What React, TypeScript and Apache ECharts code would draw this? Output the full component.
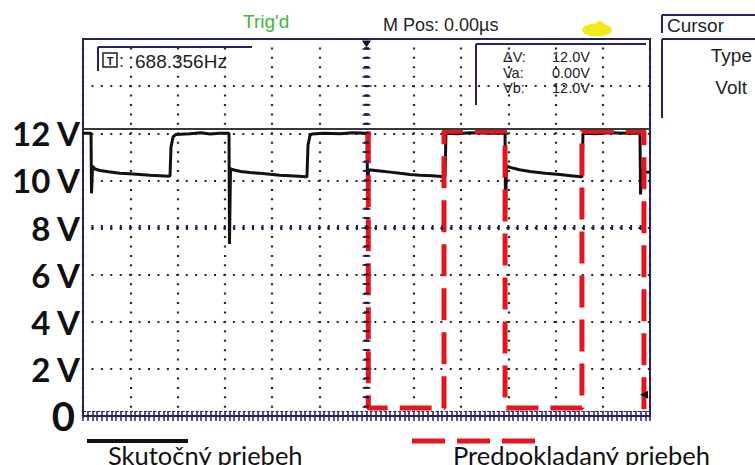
import React, { useEffect, useRef } from "react";
import * as echarts from "echarts";

// Time axis in microseconds (500 µs/div, 12 divisions), voltage in volts
const actualTime = [-3000, -2936, -2915, -2910, -2899, -2873, -2820, -2714, -2608, -2503, -2397, -2291, -2185, -2090, -2079, -2069, -2047, -2016, -1868, -1750, -1656, -1560, -1466, -1455, -1450, -1439, -1413, -1330, -1233, -1130, -1021, -920, -810, -720, -640, -630, -619, -598, -577, -450, -280, -150, -5, 5, 11, 21, 143, 250, 354, 460, 566, 700, 820, 831, 841, 960, 1095, 1300, 1455, 1466, 1471, 1481, 1519, 1620, 1730, 1890, 2048, 2160, 2270, 2280, 2291, 2430, 2577, 2750, 2884, 2894, 2900, 2910, 2968, 3000];
const actualVolt = [12.0, 12.0, 12.0, 9.45, 10.6, 10.48, 10.42, 10.36, 10.3, 10.28, 10.25, 10.22, 10.2, 10.17, 10.2, 11.4, 11.85, 11.95, 11.98, 12.02, 11.97, 12.0, 12.0, 12.0, 7.3, 10.5, 10.45, 10.38, 10.33, 10.3, 10.26, 10.22, 10.2, 10.18, 10.15, 10.15, 11.5, 11.9, 11.97, 12.0, 11.98, 12.02, 12.0, 12.0, 9.5, 10.45, 10.4, 10.35, 10.3, 10.25, 10.22, 10.2, 10.15, 10.15, 12.0, 11.98, 12.02, 12.0, 12.0, 12.0, 8.5, 10.62, 10.55, 10.45, 10.38, 10.3, 10.25, 10.2, 10.15, 10.15, 12.0, 11.98, 12.02, 12.0, 12.0, 12.0, 9.4, 10.4, 10.35, 10.35];

const expectedTime = [19, 19, 820, 820, 1466, 1466, 2280, 2280, 2936, 2936];
const expectedVolt = [12.08, 0.34, 0.34, 12.08, 12.08, 0.34, 0.34, 12.08, 12.08, 0];

const yLabelMax = 12;
const cursorB = 12.2;
const triggerLevel = 0.9;

const seriesActual = "Skutočný priebeh";
const seriesExpected = "Predpokladaný priebeh";

const NAVY = "#22226a";
const UI_TEXT = "#1e1e26";
const DOTS = { color: "#26262e", width: 2.2, type: [2, 7.43] as number[], dashOffset: 1 };

export default function App() {
  const ref = useRef<HTMLDivElement>(null);
  useEffect(() => {
    if (!ref.current) return;
    const chart = echarts.init(ref.current, null, { renderer: "svg" });
    const ui = (x: number, y: number, text: string, size = 18, align = "left", fill = UI_TEXT) => ({
      type: "text",
      x,
      y,
      style: { text, fill, font: `${size}px "Liberation Sans"`, textAlign: align, textVerticalAlign: "middle" },
    });
    const ln = (x1: number, y1: number, x2: number, y2: number, w = 2) => ({
      type: "line",
      shape: { x1, y1, x2, y2 },
      style: { stroke: NAVY, lineWidth: w },
    });
    chart.setOption({
      animation: false,
      backgroundColor: "#ffffff",
      grid: { left: 83, top: 39, width: 567, height: 377, show: true, borderColor: NAVY, borderWidth: 2, backgroundColor: "#ffffff" },
      xAxis: [
        {
          type: "value", min: -3000, max: 3000, interval: 500, position: "bottom",
          axisLine: { show: false },
          axisTick: { show: true, inside: true, length: 5, lineStyle: { color: NAVY, width: 1.5 } },
          minorTick: { show: true, splitNumber: 10, length: 5, lineStyle: { color: NAVY, width: 1.5 } },
          axisLabel: { show: false },
          splitLine: { show: true, lineStyle: DOTS },
        },
        {
          type: "value", min: -3000, max: 3000, interval: 500, position: "top",
          axisLine: { show: false },
          axisTick: { show: true, inside: true, length: 5, lineStyle: { color: NAVY, width: 1.5 } },
          minorTick: { show: true, splitNumber: 10, length: 5, lineStyle: { color: NAVY, width: 1.5 } },
          axisLabel: { show: false },
          splitLine: { show: false },
        },
      ],
      yAxis: [
        {
          type: "value", min: 0, max: 16, interval: 2, position: "left",
          axisLine: { show: false },
          axisTick: { show: true, inside: true, length: 5, lineStyle: { color: NAVY, width: 1.5 } },
          minorTick: { show: true, splitNumber: 5, length: 4, lineStyle: { color: NAVY, width: 1.5 } },
          splitLine: { show: true, lineStyle: DOTS },
          axisLabel: {
            margin: 3,
            color: "#111",
            fontFamily: "Lato",
            fontWeight: "bold",
            fontSize: 33,
            formatter: (v: number) => (v === 0 ? "{z|0}" : v <= yLabelMax ? `${v} V` : ""),
            rich: { z: { fontFamily: "Lato", fontWeight: "bold", fontSize: 40, color: "#111", padding: [0, 5, 0, 0] } },
          },
        },
        {
          type: "value", min: 0, max: 16, interval: 2, position: "right",
          axisLine: { show: false },
          axisTick: { show: true, inside: true, length: 5, lineStyle: { color: NAVY, width: 1.5 } },
          minorTick: { show: true, splitNumber: 5, length: 4, lineStyle: { color: NAVY, width: 1.5 } },
          splitLine: { show: false },
          axisLabel: { show: false },
        },
      ],
      series: [
        {
          name: seriesActual,
          type: "line",
          data: actualTime.map((t, i) => [t, actualVolt[i]]),
          showSymbol: false,
          symbol: "none",
          lineStyle: { color: "#111111", width: 3 },
          z: 3,
          markLine: {
            silent: true,
            symbol: "none",
            label: { show: false },
            data: [
              { xAxis: 0, lineStyle: { color: "#1c1c3c", width: 5, type: [2, 7.43], dashOffset: 1 } },
              { yAxis: 8, lineStyle: { color: "#1c1c4c", width: 5, type: [2, 7.45], dashOffset: 1 } },
              { yAxis: cursorB, lineStyle: { color: "#3a3a3a", width: 2, type: "solid" } },
              { yAxis: 0.2, lineStyle: { color: NAVY, width: 1, type: [3, 1.7] } },
            ],
          },
          markPoint: {
            silent: true,
            label: { show: false },
            data: [
              { coord: [0, 16], symbol: "triangle", symbolRotate: 180, symbolSize: [9, 7], symbolOffset: [0, 5], itemStyle: { color: "#111" } },
              { coord: [3000, triggerLevel], symbol: "triangle", symbolRotate: 90, symbolSize: [8, 8], symbolOffset: [-6, 0], itemStyle: { color: "#111" } },
            ],
          },
        },
        {
          name: seriesExpected,
          type: "line",
          data: expectedTime.map((t, i) => [t, expectedVolt[i]]),
          showSymbol: false,
          symbol: "none",
          lineStyle: { color: "#e3161e", width: 5, type: [32, 12] },
          z: 4,
        },
      ],
      graphic: [
        ui(243, 21, "Trig'd", 19, "left", "#3cb83c"),
        ui(383, 25, "M Pos: 0.00µs", 18),
        { type: "ellipse", shape: { cx: 597, cy: 30, rx: 15, ry: 6.5 }, style: { fill: "#f2ea1c" } },
        { type: "circle", shape: { cx: 600, cy: 26, r: 5 }, style: { fill: "#f2ea1c" } },
        // Cursor panel
        ln(662, 15, 755, 15),
        ln(662, 15, 662, 33),
        ln(662, 39, 755, 39),
        ln(662, 39, 662, 118),
        ui(667, 25, "Cursor", 19),
        ui(752, 55, "Type", 19, "right"),
        ui(747, 87, "Volt", 19, "right"),
        // frequency box
        ln(98, 47, 252, 47),
        ln(98, 47, 98, 71),
        { type: "rect", shape: { x: 103, y: 53, width: 14, height: 14 }, style: { fill: "none", stroke: UI_TEXT, lineWidth: 1.5 } },
        { type: "text", x: 110, y: 60.5, style: { text: "T", fill: UI_TEXT, font: 'bold 11px "Liberation Sans"', textAlign: "center", textVerticalAlign: "middle" } },
        ui(119, 61, ":", 18),
        ui(135, 61, "688.356Hz", 19),
        // readout box
        ln(476, 44, 646, 44),
        ln(476, 44, 476, 105),
        ui(503, 57, "ΔV:", 14.5),
        ui(552, 57, "12.0V", 14.5),
        ui(503, 72.5, "Va:", 14.5),
        ui(552, 72.5, "0.00V", 14.5),
        ui(503, 88, "Vb:", 14.5),
        ui(552, 88, "12.0V", 14.5),
        // legend
        { type: "line", shape: { x1: 87, y1: 441, x2: 188, y2: 441 }, style: { stroke: "#111", lineWidth: 4 } },
        { type: "text", x: 108, y: 455, style: { text: seriesActual, fill: "#111", font: '25.5px "Lato"', textAlign: "left", textVerticalAlign: "middle" } },
        { type: "line", shape: { x1: 412, y1: 441, x2: 537, y2: 441 }, style: { stroke: "#e3161e", lineWidth: 5, lineDash: [33, 12] } },
        { type: "text", x: 453, y: 455, style: { text: seriesExpected, fill: "#111", font: '25.5px "Lato"', textAlign: "left", textVerticalAlign: "middle" } },
      ],
    });
    return () => chart.dispose();
  }, []);
  return <div ref={ref} style={{ position: "fixed", left: 0, top: 0, width: 755, height: 465, background: "#fff" }} />;
}
